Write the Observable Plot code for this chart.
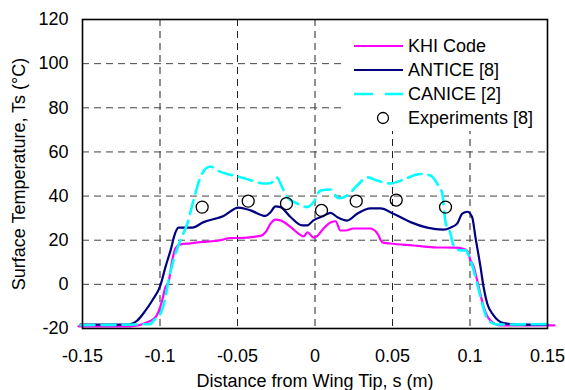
<!DOCTYPE html>
<html>
<head>
<meta charset="utf-8">
<script src="https://cdn.jsdelivr.net/npm/d3@7"></script>
<script src="https://cdn.jsdelivr.net/npm/@observablehq/plot@0.6"></script>
<style>
  html, body { margin: 0; padding: 0; background: #fff; }
  svg { display: block; }
</style>
</head>
<body>
<div id="chart"></div>
<script>
const xTicks = [-0.15, -0.1, -0.05, 0, 0.05, 0.1, 0.15];
const yTicks = [-20, 0, 20, 40, 60, 80, 100, 120];

const khiX = [-0.1526, -0.119, -0.1083, -0.1029, -0.0986, -0.0965, -0.0945, -0.0921, -0.09, -0.0868, -0.0803, -0.0739, -0.061, -0.0545, -0.0494, -0.0352, -0.0319, -0.0287, -0.0255, -0.0223, -0.0158, -0.0106, -0.0074, -0.0048, -0.001, 0.0016, 0.0055, 0.01, 0.0132, 0.0165, 0.0197, 0.0248, 0.0358, 0.0403, 0.0435, 0.0487, 0.0635, 0.0765, 0.0894, 0.0952, 0.0984, 0.1003, 0.1023, 0.1055, 0.1087, 0.1132, 0.1197, 0.1545];
const khiY = [-19, -19, -17.2, -14.9, -7.3, -1.3, 1, 10.9, 16.3, 18.1, 18.6, 19.1, 20, 21, 21, 22, 23.6, 27.5, 29.3, 29, 26, 23, 21.7, 23.6, 21.2, 22, 25.3, 28, 28.6, 24.4, 24.4, 25.3, 25.3, 23, 19, 18.5, 17.6, 16.8, 16.6, 16.2, 15, 11, 8.2, -0.8, -9.9, -16.4, -18.6, -18.6];

const anticeX = [-0.1513, -0.121, -0.1147, -0.1094, -0.105, -0.0997, -0.0965, -0.0932, -0.09, -0.0881, -0.0792, -0.0719, -0.059, -0.0494, -0.0416, -0.0319, -0.0287, -0.0255, -0.0223, -0.0158, -0.0083, -0.005, -0.001, 0.0055, 0.01, 0.0145, 0.0208, 0.0272, 0.0358, 0.0423, 0.0506, 0.0616, 0.0724, 0.0829, 0.0874, 0.0917, 0.095, 0.0984, 0.1014, 0.1035, 0.1068, 0.1087, 0.1111, 0.1152, 0.1216, 0.1305, 0.15];
const anticeY = [-18.2, -18.2, -16.4, -11.9, -7.3, -0.4, 7.8, 15.4, 23.6, 25.7, 25.7, 28.2, 31, 34.8, 33.5, 31, 32.7, 35.3, 35, 30.5, 26.7, 26.7, 29, 31, 32.4, 30.4, 28.9, 32, 34.4, 34.4, 32, 28.2, 25.7, 24.8, 25.7, 27.5, 32, 32.9, 30.4, 21.4, 7.8, -1, -8.7, -14, -17.5, -18.2, -18.2];

const caniceX = [-0.1513, -0.1061, -0.1042, -0.0997, -0.0965, -0.0945, -0.0913, -0.0868, -0.0823, -0.0784, -0.0739, -0.0706, -0.0674, -0.0631, -0.0566, -0.0502, -0.0416, -0.0332, -0.0287, -0.0248, -0.0212, -0.0179, -0.0115, -0.005, -0.001, 0.0035, 0.01, 0.0152, 0.0208, 0.0272, 0.0337, 0.0401, 0.0487, 0.0571, 0.0681, 0.0745, 0.0788, 0.0821, 0.0842, 0.0874, 0.0894, 0.0939, 0.0971, 0.1003, 0.1046, 0.1079, 0.1111, 0.1175, 0.1519];
const caniceY = [-18.5, -18, -16.4, -13.3, -5.8, 1.8, 10.9, 20, 27.6, 38, 48.5, 52.4, 53.4, 51.6, 50, 49, 47.2, 45.7, 45.8, 48.5, 44, 39.5, 36.6, 35, 37.2, 42.5, 43, 39, 40.3, 44.8, 48.5, 47, 45.7, 47.5, 50, 49.3, 45.7, 41.2, 28.2, 23, 17.5, 15.4, 15.4, 11, 0.4, -8.7, -15.5, -18.2, -18];

const expX = [-0.0728, -0.0431, -0.0184, 0.0042, 0.0266, 0.0524, 0.0842];
const expY = [35, 37.7, 36.6, 33.5, 37.7, 38.2, 35];

const seriesNames = ["KHI Code", "ANTICE [8]", "CANICE [2]", "Experiments [8]"];

const zip = (xs, ys) => xs.map((x, i) => ({x, y: ys[i]}));
const khi = zip(khiX, khiY);
const antice = zip(anticeX, anticeY);
const canice = zip(caniceX, caniceY);
const exps = zip(expX, expY);

const W = 565, H = 390;
const plot = Plot.plot({
  width: W,
  height: H,
  marginLeft: 82,
  marginRight: 18,
  marginTop: 19,
  marginBottom: 62,
  style: {fontFamily: "'Liberation Sans', Arial, sans-serif", fontSize: "18px", color: "#000", background: "#fff"},
  x: {domain: [-0.15, 0.15]},
  y: {domain: [-20, 120]},
  marks: [
    Plot.gridX(xTicks.slice(1, -1), {stroke: "#222", strokeOpacity: 1, strokeWidth: 1, strokeDasharray: "7,5"}),
    Plot.gridY(yTicks.slice(1, -1), {stroke: "#444", strokeOpacity: 1, strokeWidth: 1, strokeDasharray: "7,5"}),
    Plot.axisX({ticks: xTicks, tickSize: 0, tickPadding: 21, tickFormat: d => String(d), label: "Distance from Wing Tip, s (m)", labelAnchor: "center", labelArrow: "none", labelOffset: 58, fontSize: 18}),
    Plot.axisY({ticks: yTicks, tickSize: 0, tickPadding: 14, tickFormat: d => String(d), label: "Surface Temperature, Ts (°C)", labelAnchor: "center", labelArrow: "none", labelOffset: 70, fontSize: 18}),
    Plot.line(khi, {x: "x", y: "y", stroke: "#ff00ff", strokeWidth: 2.2, curve: "monotone-x"}),
    Plot.line(antice, {x: "x", y: "y", stroke: "#000080", strokeWidth: 2.2, curve: "monotone-x"}),
    Plot.line(canice, {x: "x", y: "y", stroke: "#00ffff", strokeWidth: 2.6, strokeDasharray: "14,7", curve: "monotone-x"}),
    Plot.dot(exps, {x: "x", y: "y", r: 6, stroke: "#000", strokeWidth: 1.3, fill: "none"}),
    Plot.frame({stroke: "#000", strokeWidth: 1.6})
  ]
});

document.getElementById("chart").appendChild(plot);

// legend: opaque white box inside the plot area, hiding the gridlines behind it
const svg = d3.select(plot);
const gridGroups = plot.querySelectorAll("g[aria-label$='grid']");
const afterGrid = gridGroups.length ? gridGroups[gridGroups.length - 1].nextSibling : plot.firstChild;
const bg = document.createElementNS("http://www.w3.org/2000/svg", "rect");
bg.setAttribute("x", 345); bg.setAttribute("y", 20);
bg.setAttribute("width", 201); bg.setAttribute("height", 111);
bg.setAttribute("fill", "#ffffff");
bg.setAttribute("stroke", "none");
plot.insertBefore(bg, afterGrid);

const lg = svg.append("g")
  .attr("font-family", "'Liberation Sans', Arial, sans-serif")
  .attr("font-size", 18)
  .attr("text-anchor", "start")
  .attr("fill", "#000");
const rows = [
  {name: seriesNames[0], y: 46, stroke: "#ff00ff", dash: null, w: 2.2},
  {name: seriesNames[1], y: 70, stroke: "#000080", dash: null, w: 2.2},
  {name: seriesNames[2], y: 94, stroke: "#00ffff", dash: "19,12", w: 2.6},
  {name: seriesNames[3], y: 118, circle: true}
];
rows.forEach(r => {
  if (r.circle) {
    lg.append("circle").attr("cx", 383).attr("cy", r.y).attr("r", 5.5).attr("fill", "none").attr("stroke", "#000").attr("stroke-width", 1.3);
  } else {
    lg.append("line").attr("x1", 354).attr("x2", 403).attr("y1", r.y).attr("y2", r.y)
      .attr("stroke", r.stroke).attr("stroke-width", r.w).attr("stroke-dasharray", r.dash);
  }
  lg.append("text").attr("x", 408).attr("y", r.y).attr("dy", "0.35em").attr("text-anchor", "start").text(r.name);
});
</script>
</body>
</html>
